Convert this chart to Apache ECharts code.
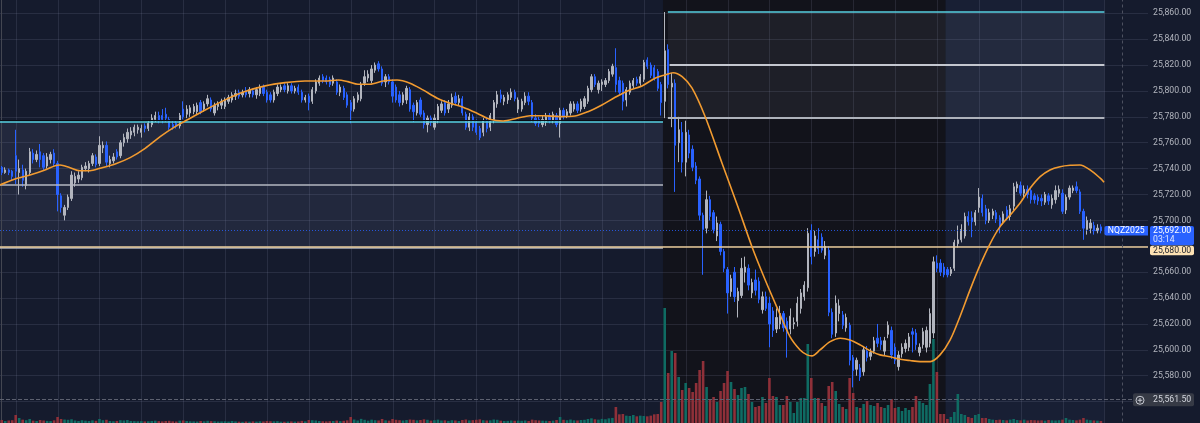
<!DOCTYPE html>
<html>
<head>
<meta charset="utf-8">
<script src="https://cdn.jsdelivr.net/npm/echarts@6/dist/echarts.min.js"></script>
<style>
  html, body { margin: 0; padding: 0; background: #151b2d; }
  #chart { width: 1200px; height: 423px; }
</style>
</head>
<body>
<div id="chart"></div>
<script>
// NQZ2025, 5 min bars: [open, close, low, high]
const candles = [
  [25741,25737,25735,25742],[25737,25739,25736,25741],[25739,25737,25735,25740],[25738,25734,25731,25739],
  [25750,25738,25728,25770],[25737,25740,25720,25747],[25739,25731,25726,25743],[25727,25738,25724,25740],
  [25737,25753,25735,25756],[25752,25747,25744,25755],[25747,25751,25745,25754],[25753,25747,25741,25759],
  [25750,25741,25739,25752],[25742,25749,25740,25752],[25747,25751,25744,25753],[25752,25744,25742,25755],
  [25744,25720,25707,25746],[25719,25710,25706,25721],[25704,25710,25700,25712],[25710,25718,25708,25720],
  [25717,25735,25715,25738],[25729,25734,25726,25737],[25732,25735,25729,25738],[25733,25741,25731,25743],
  [25740,25742,25738,25745],[25740,25744,25737,25746],[25744,25750,25742,25752],[25749,25743,25741,25751],
  [25744,25758,25742,25765],[25756,25758,25752,25761],[25758,25745,25742,25761],[25744,25747,25741,25750],
  [25746,25749,25744,25752],[25753,25749,25747,25755],[25750,25760,25748,25762],[25760,25764,25757,25767],
  [25763,25768,25760,25771],[25766,25769,25763,25772],[25768,25772,25765,25774],[25770,25772,25767,25774],
  [25768,25771,25764,25774],[25773,25771,25768,25775],[25771,25775,25769,25777],[25774,25779,25772,25782],
  [25778,25781,25776,25784],[25781,25777,25775,25784],[25781,25778,25775,25786],[25782,25779,25776,25787],
  [25778,25772,25770,25780],[25774,25772,25770,25777],[25775,25773,25771,25777],[25773,25781,25771,25783],
  [25786,25780,25778,25792],[25782,25786,25779,25789],[25783,25787,25780,25789],[25784,25788,25782,25790],
  [25784,25789,25782,25791],[25791,25784,25782,25793],[25786,25790,25784,25792],[25790,25794,25788,25797],
  [25793,25786,25784,25795],[25783,25789,25781,25791],[25788,25790,25785,25792],[25789,25792,25786,25794],
  [25788,25793,25786,25795],[25792,25795,25790,25797],[25793,25797,25791,25799],[25796,25798,25793,25801],
  [25799,25796,25794,25801],[25797,25799,25795,25801],[25800,25797,25795,25803],[25798,25801,25795,25803],
  [25800,25797,25795,25802],[25797,25801,25794,25803],[25798,25803,25796,25805],[25803,25798,25796,25805],
  [25799,25793,25791,25801],[25797,25793,25791,25799],[25793,25799,25791,25801],[25798,25803,25796,25805],
  [25801,25803,25799,25805],[25804,25801,25799,25806],[25800,25804,25798,25806],[25804,25800,25798,25806],
  [25800,25802,25798,25804],[25803,25799,25797,25805],[25799,25793,25791,25801],[25793,25795,25791,25797],
  [25796,25791,25785,25798],[25792,25801,25790,25803],[25800,25807,25798,25809],[25806,25810,25804,25812],
  [25811,25808,25806,25813],[25810,25807,25805,25812],[25809,25805,25803,25811],[25806,25810,25804,25812],
  [25807,25799,25797,25809],[25799,25803,25796,25805],[25802,25795,25793,25804],[25797,25789,25787,25799],
  [25791,25785,25775,25793],[25786,25794,25784,25796],[25793,25797,25791,25799],[25794,25805,25792,25807],
  [25806,25811,25804,25816],[25810,25813,25807,25816],[25808,25817,25806,25820],[25816,25820,25814,25822],
  [25821,25817,25815,25823],[25817,25806,25804,25819],[25807,25811,25803,25813],[25811,25807,25805,25813],
  [25807,25796,25791,25809],[25803,25793,25791,25805],[25797,25791,25788,25800],[25791,25797,25789,25799],
  [25793,25802,25790,25804],[25801,25786,25784,25803],[25789,25784,25776,25791],[25783,25791,25781,25793],
  [25793,25782,25780,25795],[25783,25774,25771,25785],[25774,25779,25768,25781],[25779,25776,25773,25781],
  [25772,25779,25770,25782],[25777,25788,25775,25790],[25785,25790,25783,25792],[25791,25783,25781,25793],
  [25786,25790,25783,25793],[25789,25795,25787,25798],[25796,25791,25789,25799],[25791,25794,25789,25797],
  [25794,25783,25781,25796],[25782,25772,25770,25784],[25772,25780,25769,25783],[25780,25772,25769,25782],
  [25776,25768,25766,25778],[25771,25764,25762,25773],[25768,25777,25765,25779],[25777,25771,25768,25780],
  [25772,25781,25769,25783],[25778,25791,25775,25793],[25790,25797,25787,25800],[25797,25794,25791,25801],
  [25792,25795,25789,25797],[25793,25797,25790,25799],[25795,25799,25793,25802],[25799,25794,25792,25801],
  [25786,25793,25783,25795],[25786,25792,25784,25794],[25791,25796,25789,25799],[25796,25792,25789,25799],
  [25791,25779,25776,25793],[25779,25775,25773,25782],[25778,25775,25772,25780],[25774,25778,25772,25781],
  [25776,25780,25773,25783],[25781,25777,25775,25783],[25777,25782,25775,25784],[25781,25774,25772,25783],
  [25775,25785,25764,25787],[25785,25780,25778,25787],[25781,25784,25779,25786],[25783,25790,25781,25792],
  [25786,25790,25784,25792],[25790,25785,25783,25792],[25786,25792,25784,25794],[25788,25794,25786,25796],
  [25792,25802,25790,25804],[25801,25811,25799,25813],[25811,25805,25803,25813],[25801,25806,25798,25808],
  [25805,25807,25800,25809],[25805,25808,25803,25810],[25808,25815,25806,25817],[25813,25819,25811,25821],
  [25818,25805,25799,25833],[25808,25799,25797,25811],[25806,25792,25785,25808],[25793,25801,25788,25803],
  [25799,25806,25797,25808],[25804,25808,25802,25810],[25809,25806,25804,25811],[25806,25811,25804,25813],
  [25809,25822,25807,25824],[25824,25819,25817,25826],[25820,25812,25810,25822],[25818,25810,25808,25820],
  [25815,25802,25800,25817],[25805,25791,25781,25807],
  // 09:30 open
  [25792,25831,25779,25861],[25832,25805,25802,25836],
  [25803,25806,25772,25814],[25806,25758,25722,25809],[25760,25770,25745,25780],[25768,25745,25737,25776],
  [25745,25768,25734,25777],[25766,25752,25748,25770],[25755,25741,25738,25758],[25742,25731,25728,25745],
  [25732,25704,25700,25734],[25704,25693,25658,25706],[25694,25716,25690,25723],[25716,25703,25700,25719],
  [25706,25693,25690,25708],[25688,25698,25684,25703],[25697,25676,25673,25699],[25676,25663,25660,25678],
  [25662,25644,25628,25664],[25645,25655,25641,25658],[25660,25641,25637,25664],[25638,25645,25625,25648],
  [25642,25663,25640,25671],[25660,25664,25652,25672],[25663,25650,25646,25666],[25644,25652,25640,25655],
  [25654,25646,25642,25662],[25653,25639,25636,25656],[25631,25641,25628,25645],[25641,25632,25630,25645],
  [25636,25620,25602,25641],[25630,25615,25610,25633],[25616,25625,25613,25632],[25620,25628,25616,25634],
  [25628,25617,25614,25630],[25622,25613,25594,25625],[25616,25626,25612,25632],[25620,25621,25616,25625],
  [25622,25636,25618,25641],[25632,25644,25628,25647],[25641,25650,25638,25653],[25648,25690,25645,25694],
  [25692,25672,25666,25697],[25676,25688,25672,25692],[25685,25678,25674,25694],[25687,25677,25675,25690],
  [25673,25680,25670,25684],[25677,25629,25626,25680],[25629,25612,25609,25632],[25613,25636,25610,25642],
  [25628,25634,25622,25639],[25627,25619,25616,25630],[25617,25625,25614,25628],[25619,25592,25588,25621],
  [25594,25584,25571,25596],[25585,25592,25580,25594],[25586,25579,25576,25589],[25583,25600,25580,25603],
  [25599,25594,25591,25603],[25595,25598,25592,25601],[25599,25607,25597,25610],[25609,25605,25602,25620],
  [25607,25604,25600,25610],[25599,25607,25596,25610],[25612,25619,25609,25622],[25615,25596,25593,25618],
  [25602,25592,25589,25605],[25587,25596,25584,25599],[25597,25602,25594,25605],[25601,25605,25598,25608],
  [25602,25610,25599,25613],[25614,25612,25598,25617],[25613,25604,25600,25616],[25598,25602,25595,25605],
  [25604,25614,25601,25617],[25602,25615,25598,25618],[25605,25628,25602,25632],[25613,25668,25609,25672],
  [25667,25663,25660,25673],[25667,25660,25657,25670],[25664,25658,25656,25667],
  // after the close
  [25662,25658,25656,25664],[25659,25662,25657,25664],[25663,25683,25661,25685],[25682,25685,25679,25696],
  [25685,25693,25683,25697],[25688,25703,25686,25706],[25703,25699,25696,25707],[25702,25699,25687,25707],
  [25699,25706,25696,25708],[25710,25718,25706,25725],[25717,25706,25703,25720],[25709,25700,25697,25712],
  [25700,25706,25698,25709],[25704,25707,25701,25709],[25706,25701,25698,25708],[25702,25695,25690,25704],
  [25699,25705,25697,25707],[25708,25703,25700,25711],[25703,25709,25700,25712],[25711,25726,25708,25729],
  [25725,25728,25722,25730],[25727,25721,25719,25730],[25721,25724,25718,25727],[25724,25720,25717,25727],
  [25723,25716,25713,25726],[25719,25716,25713,25721],[25718,25715,25712,25720],[25717,25715,25711,25720],
  [25714,25720,25712,25722],[25719,25715,25712,25721],[25712,25717,25709,25720],[25716,25723,25713,25727],
  [25721,25724,25718,25727],[25721,25707,25705,25724],[25708,25718,25705,25720],[25718,25725,25716,25727],
  [25723,25725,25721,25727],[25726,25723,25721,25730],[25722,25707,25705,25724],[25707,25694,25685,25709],
  [25693,25700,25689,25703],[25694,25698,25690,25701],[25696,25692,25689,25699],[25692,25694,25690,25697],
  [25695,25692,25690,25697]
];

const volumes = [
  450,300,380,420,1200,750,500,420,600,350,300,450,380,320,290,400,
  900,600,520,480,560,380,300,420,350,300,400,330,
  600,420,480,300,260,310,420,380,450,300,280,260,
  280,240,260,300,350,280,240,300,330,250,220,360,
  380,300,260,240,220,300,250,330,280,260,220,240,
  260,220,300,240,200,180,220,200,240,210,260,230,
  300,270,250,280,200,190,220,240,210,230,320,250,
  450,420,380,300,260,240,280,300,360,280,330,400,
  900,520,380,620,480,350,500,420,380,600,400,350,
  600,480,420,380,450,520,480,400,450,550,480,360,
  420,500,380,400,320,420,380,300,450,520,400,430,
  480,550,420,380,400,520,480,350,300,320,380,340,
  360,330,380,300,500,420,380,350,330,300,360,450,
  900,480,420,520,400,380,450,480,600,700,550,500,
  620,560,700,760,2400,1300,1350,1100,1050,1200,1000,1100,
  1050,1000,1100,1300,1350,3150,
  17250,7500,10800,10500,6900,4950,6000,5250,4650,6000,7950,9300,
  5400,3600,3900,3150,4800,6000,7800,6150,5100,4200,5250,5400,
  4350,3150,2400,2550,3900,3000,6750,4050,3900,2700,2700,4050,
  3150,1500,3150,3750,3750,11850,6750,3750,3750,3000,2550,5550,
  6150,4800,2850,2400,2100,6750,4500,2400,2250,2850,3300,2700,
  2550,3000,2400,2250,2700,3600,2250,2400,1800,2250,1950,2400,
  4050,3300,3000,2700,5850,12600,7650,1350,1350,600,900,1650,
  4350,1350,1200,900,750,1200,1350,750,750,600,500,450,
  500,450,400,500,600,450,400,500,380,450,420,380,
  400,350,450,400,380,420,500,750,500,450,400,500,
  750,500,420,380,350,300
];

// smoothed average, [bar position, price]
const avgLine = [
  [-0.5,25727.4],[3.8,25732.0],[8.1,25735.1],[12.4,25739.0],[15.3,25742.3],[16.7,25742.8],[19.6,25740.7],
  [22.4,25738.4],[25.3,25738.4],[28.2,25740.3],[32.5,25743.6],[36.8,25748.5],[41.1,25755.7],[45.4,25764.7],
  [49.7,25772.4],[54.0,25778.9],[58.3,25785.3],[64.0,25793.1],[69.7,25799.5],[75.5,25803.9],[81.2,25806.4],
  [86.9,25807.7],[92.7,25807.7],[96.4,25808.5],[99.2,25807.2],[102.1,25805.2],[105.5,25805.2],[109.3,25807.7],
  [113.3,25808.5],[117.0,25806.0],[120.7,25800.8],[124.8,25794.4],[128.5,25790.5],[132.2,25787.4],[136.2,25782.8],
  [139.9,25778.1],[143.7,25776.8],[147.7,25778.9],[151.4,25780.9],[155.1,25780.9],[160.0,25780.2],[164.3,25780.7],
  [168.0,25784.0],[172.0,25789.2],[175.8,25795.1],[179.5,25800.2],[183.5,25803.9],[187.2,25809.8],[190.1,25812.4],
  [192.4,25814.1],[195.0,25811.0],[197.8,25802.3],[201.6,25780.1],[206.4,25744.4],[211.0,25710.4],[215.0,25679.7],
  [218.8,25654.0],[222.5,25630.8],[225.9,25610.2],[228.8,25599.9],[230.8,25596.1],[232.2,25595.3],[234.5,25599.9],
  [237.4,25606.3],[240.3,25609.0],[243.1,25607.6],[246.0,25603.8],[248.9,25599.2],[251.7,25596.1],[254.6,25594.7],
  [257.5,25592.7],[260.3,25591.7],[263.2,25590.9],[266.1,25590.9],[268.9,25596.1],[271.8,25607.7],[274.6,25625.6],
  [277.5,25646.3],[280.4,25665.6],[283.3,25682.3],[286.1,25695.2],[289.0,25704.2],[291.8,25713.2],[294.7,25724.8],
  [297.6,25733.8],[300.4,25739.0],[303.3,25741.5],[306.2,25742.6],[309.0,25742.8],[311.9,25739.0],[314.8,25732.6],
  [315.9,25729.5]
];

const hiddenTicks = [25540, 25560, 25680, 25880];
const lastPrice = 25692.00;
const alertPrice = 25680.00;
const markerPrice = 25561.50;
const symbolName = 'NQZ2025';
const countdown = '03:14';

const slotCount = 329;      // bars plus empty space on the right
const sessionOpen = 189.5, sessionClose = 270.5, drawEnd = 316;

const xSlots = [];
for (let i = 0; i < slotCount; i++) xSlots.push(i);

const UP = '#b2b5be', DOWN = '#2962ff';
const VOL_UP = '#0f6b63', VOL_DOWN = '#8f3039';
const FONT = 'Roboto, "Liberation Sans", sans-serif';

function fmt(v) {
  const parts = v.toFixed(2).split('.');
  return parts[0].replace(/\B(?=(\d{3})+(?!\d))/g, ',') + '.' + parts[1];
}

// background zones: [x0, x1, lowPrice, highPrice, fill]
const zones = [
  [-0.5, sessionOpen, 25678.5, 25776.1, 'rgba(60,68,95,0.33)'],
  [sessionOpen, sessionClose, 25540, 25880, 'rgba(17,18,22,0.80)'],
  [sessionClose, drawEnd, 25540, 25880, 'rgba(45,58,100,0.13)'],
  [190.9, drawEnd, 25779.3, 25861.2, 'rgba(130,135,150,0.11)']
];
const hourLines = [];
for (let k = 4; k <= drawEnd; k += 12) hourLines.push(k);

function seg(x0, x1, y, color, width, type) {
  return [{ coord: [x0, y], lineStyle: { color: color, width: width, type: type || 'solid' } }, { coord: [x1, y] }];
}

const chart = echarts.init(document.getElementById('chart'), null, { renderer: 'canvas' });

const option = {
  animation: false,
  backgroundColor: '#151b2d',
  grid: [
    { left: 0, right: 52, top: -12.6, bottom: -4.5, outerBoundsMode: 'none' },
    { left: 0, right: 52, top: 303, bottom: 0, outerBoundsMode: 'none' }
  ],
  xAxis: [
    { type: 'category', gridIndex: 0, data: xSlots, boundaryGap: true, show: false },
    { type: 'value', gridIndex: 0, min: -0.5, max: slotCount - 0.5, show: false, splitLine: { show: false } },
    { type: 'category', gridIndex: 1, data: xSlots, boundaryGap: true, show: false }
  ],
  yAxis: [
    {
      type: 'value', gridIndex: 0, position: 'right', min: 25540, max: 25880, interval: 20, z: 1.5,
      axisLine: { show: true, lineStyle: { color: '#434651', width: 1 } },
      axisTick: { show: false },
      axisLabel: {
        color: '#b2b5be', fontSize: 8.7, fontFamily: FONT, margin: 5,
        formatter: v => hiddenTicks.indexOf(v) >= 0 ? '' : fmt(v)
      },
      splitLine: { show: true, lineStyle: { color: 'rgba(140,150,180,0.16)', width: 1 } }
    },
    { type: 'value', gridIndex: 1, min: 0, max: 18000, show: false, splitLine: { show: false } }
  ],
  series: [
    {
      type: 'custom', xAxisIndex: 1, yAxisIndex: 0, z: 1, silent: true,
      data: zones.map(z => [z[0], z[2]]),
      renderItem: (params, api) => {
        const z = zones[params.dataIndex];
        const a = api.coord([z[0], z[3]]);
        const b = api.coord([z[1], z[2]]);
        return { type: 'rect', shape: { x: a[0], y: a[1], width: b[0] - a[0], height: b[1] - a[1] }, style: { fill: z[4] } };
      }
    },
    {
      type: 'custom', xAxisIndex: 1, yAxisIndex: 0, z: 1.2, silent: true,
      data: hourLines.map(h => [h, 25700]),
      renderItem: (params, api) => {
        const x = Math.round(api.coord([hourLines[params.dataIndex], 25700])[0]) + 0.5;
        const r = params.coordSys;
        return { type: 'line', shape: { x1: x, y1: r.y, x2: x, y2: r.y + r.height }, style: { stroke: 'rgba(140,150,180,0.16)', lineWidth: 1 } };
      }
    },
    {
      type: 'bar', xAxisIndex: 2, yAxisIndex: 1, barWidth: 2.6, z: 2, silent: true,
      data: volumes.map((v, i) => ({ value: v, itemStyle: { color: candles[i][1] >= candles[i][0] ? VOL_UP : VOL_DOWN } }))
    },
    {
      type: 'candlestick', xAxisIndex: 0, yAxisIndex: 0, z: 4, barWidth: 1.8, silent: true,
      data: candles,
      itemStyle: { color: UP, color0: DOWN, borderColor: UP, borderColor0: DOWN, borderWidth: 1 }
    },
    {
      type: 'line', xAxisIndex: 1, yAxisIndex: 0, z: 6, silent: true,
      data: avgLine, smooth: 0.3, symbol: 'none',
      lineStyle: { color: '#f29b30', width: 1.6 },
      markLine: {
        silent: true, symbol: ['none', 'none'], label: { show: false },
        data: [
          seg(-0.5, sessionOpen, 25777.6, '#090c14', 1),
          seg(-0.5, sessionOpen, 25776.1, '#56cfdf', 1.6),
          seg(-0.5, sessionOpen, 25727.4, '#b4b7c0', 1.5),
          seg(-0.5, sessionOpen, 25678.5, '#a9adb7', 1.5),
          seg(-0.5, slotCount - 0.5, alertPrice, '#e8cb9a', 1.5),
          seg(-0.5, drawEnd, lastPrice, 'rgba(41,98,255,0.8)', 1, [1, 2]),
          seg(-0.5, 324.2, markerPrice, '#5d6170', 1, 'dashed'),
          seg(190.9, drawEnd, 25861.2, '#56cfdf', 1.6),
          seg(191.4, drawEnd, 25820.3, '#c4c7cf', 2),
          seg(190.9, drawEnd, 25779.3, '#aeb2bb', 2),
          [{ coord: [321.1, 25540], lineStyle: { color: '#4d5160', width: 1, type: [3, 3] } }, { coord: [321.1, 25880] }]
        ]
      }
    }
  ]
};
chart.setOption(option);

// price tags on the right scale, placed through the chart's own axes
const yPx = p => chart.convertToPixel({ yAxisIndex: 0 }, p);
const axisX = chart.convertToPixel({ xAxisIndex: 1 }, slotCount - 0.5);
const endX = chart.convertToPixel({ xAxisIndex: 1 }, drawEnd);
const yLast = yPx(lastPrice), yAlert = yPx(alertPrice), yMark = yPx(markerPrice);
const tagFont = '8.7px ' + FONT;

chart.setOption({
  graphic: [
    { type: 'rect', z: 100, shape: { x: endX, y: yLast - 4.8, width: axisX - endX, height: 9.6, r: [2, 0, 0, 2] }, style: { fill: '#2962ff' } },
    { type: 'text', z: 101, x: (endX + axisX) / 2, y: yLast, style: { text: symbolName, fill: '#ffffff', font: tagFont, align: 'center', verticalAlign: 'middle' } },
    { type: 'rect', z: 100, shape: { x: axisX + 2, y: yLast - 4.8, width: 44, height: 19.2, r: 2 }, style: { fill: '#2962ff' } },
    { type: 'text', z: 101, x: axisX + 5, y: yLast, style: { text: fmt(lastPrice), fill: '#ffffff', font: tagFont, verticalAlign: 'middle' } },
    { type: 'text', z: 101, x: axisX + 5, y: yLast + 9.4, style: { text: countdown, fill: '#dfe6ff', font: tagFont, verticalAlign: 'middle' } },
    { type: 'rect', z: 100, shape: { x: axisX + 2, y: yAlert - 0.5, width: 44, height: 9.4, r: 2 }, style: { fill: '#fde2b4' } },
    { type: 'text', z: 101, x: axisX + 5, y: yAlert + 4.2, style: { text: fmt(alertPrice), fill: '#1b1f2b', font: tagFont, verticalAlign: 'middle' } },
    { type: 'rect', z: 100, shape: { x: axisX - 15, y: yMark - 6.3, width: 61, height: 13, r: 2 }, style: { fill: '#363a45' } },
    { type: 'circle', z: 101, shape: { cx: axisX - 8, cy: yMark + 0.6, r: 4 }, style: { fill: 'none', stroke: '#c9ccd4', lineWidth: 1 } },
    { type: 'line', z: 101, shape: { x1: axisX - 10.3, y1: yMark + 0.6, x2: axisX - 5.7, y2: yMark + 0.6 }, style: { stroke: '#c9ccd4', lineWidth: 1 } },
    { type: 'line', z: 101, shape: { x1: axisX - 8, y1: yMark - 1.7, x2: axisX - 8, y2: yMark + 2.9 }, style: { stroke: '#c9ccd4', lineWidth: 1 } },
    { type: 'text', z: 101, x: axisX + 5, y: yMark + 0.6, style: { text: fmt(markerPrice), fill: '#d1d4dc', font: tagFont, verticalAlign: 'middle' } }
  ]
});
window.addEventListener('resize', chart.resize);
</script>
</body>
</html>
